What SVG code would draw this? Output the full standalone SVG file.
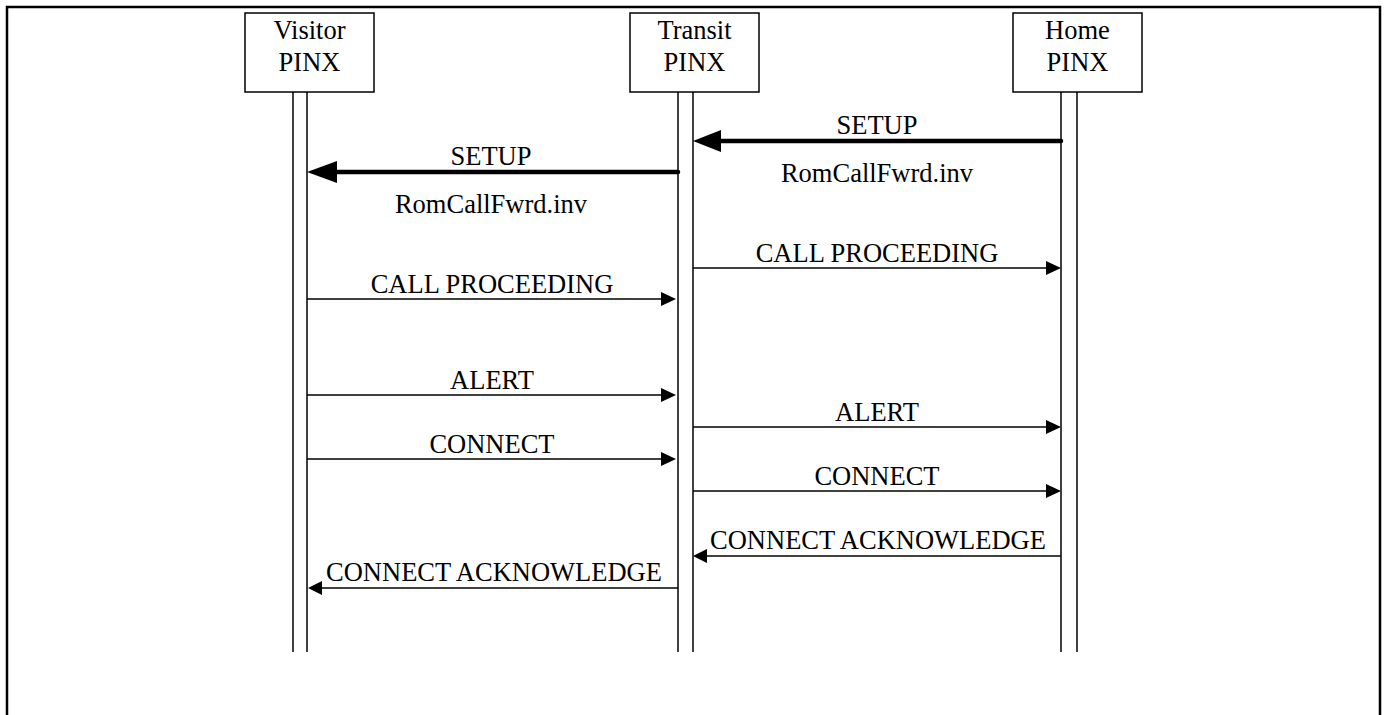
<svg xmlns="http://www.w3.org/2000/svg" width="1388" height="715" viewBox="0 0 1388 715">
<style>
text{font-family:"Liberation Serif","Times New Roman",serif;font-size:26.5px;fill:#000;text-anchor:middle}
.box{fill:#fff;stroke:#000;stroke-width:1.5}
.life{stroke:#000;stroke-width:1.5;fill:none}
.msg{stroke:#000;stroke-width:1.5;fill:none}
.thick{stroke:#000;stroke-width:4.5;fill:none;stroke-linecap:round}
.head{fill:#000;stroke:none}
</style>
<rect width="1388" height="715" fill="#fff"/>
<path d="M7,730 V7 H1380 V730" fill="none" stroke="#000" stroke-width="2.5"/>
<g id="visitor">
<rect class="box" x="245" y="13" width="129" height="79"/>
<text x="309.5" y="39">Visitor</text>
<text x="309.5" y="71">PINX</text>
<line class="life" x1="293" y1="92" x2="293" y2="652"/>
<line class="life" x1="307" y1="92" x2="307" y2="652"/>
</g>
<g id="transit">
<rect class="box" x="630" y="13" width="129" height="79"/>
<text x="694.5" y="39">Transit</text>
<text x="694.5" y="71">PINX</text>
<line class="life" x1="678" y1="92" x2="678" y2="652"/>
<line class="life" x1="693" y1="92" x2="693" y2="652"/>
</g>
<g id="home">
<rect class="box" x="1013" y="13" width="129" height="79"/>
<text x="1077.5" y="39">Home</text>
<text x="1077.5" y="71">PINX</text>
<line class="life" x1="1061" y1="92" x2="1061" y2="652"/>
<line class="life" x1="1077" y1="92" x2="1077" y2="652"/>
</g>
<g id="connectors">
<line class="thick" x1="1061" y1="141" x2="718" y2="141"/>
<polygon class="head" points="693,141 721,130 721,152"/>
<text x="877" y="134">SETUP</text>
<text x="877" y="182">RomCallFwrd.inv</text>

<line class="thick" x1="678" y1="172" x2="334" y2="172"/>
<polygon class="head" points="307,172 337,161 337,183"/>
<text x="491" y="165">SETUP</text>
<text x="491" y="213">RomCallFwrd.inv</text>

<line class="msg" x1="693" y1="268" x2="1047" y2="268"/>
<polygon class="head" points="1061,268 1046,261 1046,275"/>
<text x="877" y="262">CALL PROCEEDING</text>

<line class="msg" x1="307" y1="299" x2="662" y2="299"/>
<polygon class="head" points="676,299 661,292 661,306"/>
<text x="492" y="293">CALL PROCEEDING</text>

<line class="msg" x1="307" y1="395" x2="662" y2="395"/>
<polygon class="head" points="676,395 661,388 661,402"/>
<text x="492" y="389">ALERT</text>

<line class="msg" x1="693" y1="427" x2="1047" y2="427"/>
<polygon class="head" points="1061,427 1046,420 1046,434"/>
<text x="877" y="421">ALERT</text>

<line class="msg" x1="307" y1="459" x2="662" y2="459"/>
<polygon class="head" points="676,459 661,452 661,466"/>
<text x="492" y="453">CONNECT</text>

<line class="msg" x1="693" y1="491" x2="1047" y2="491"/>
<polygon class="head" points="1061,491 1046,484 1046,498"/>
<text x="877" y="485">CONNECT</text>

<line class="msg" x1="1061" y1="556" x2="706" y2="556"/>
<polygon class="head" points="693,556 707,549 707,563"/>
<text x="878" y="549">CONNECT ACKNOWLEDGE</text>

<line class="msg" x1="678" y1="588" x2="321" y2="588"/>
<polygon class="head" points="308,588 322,581 322,595"/>
<text x="494" y="581">CONNECT ACKNOWLEDGE</text>
</g>
</svg>
